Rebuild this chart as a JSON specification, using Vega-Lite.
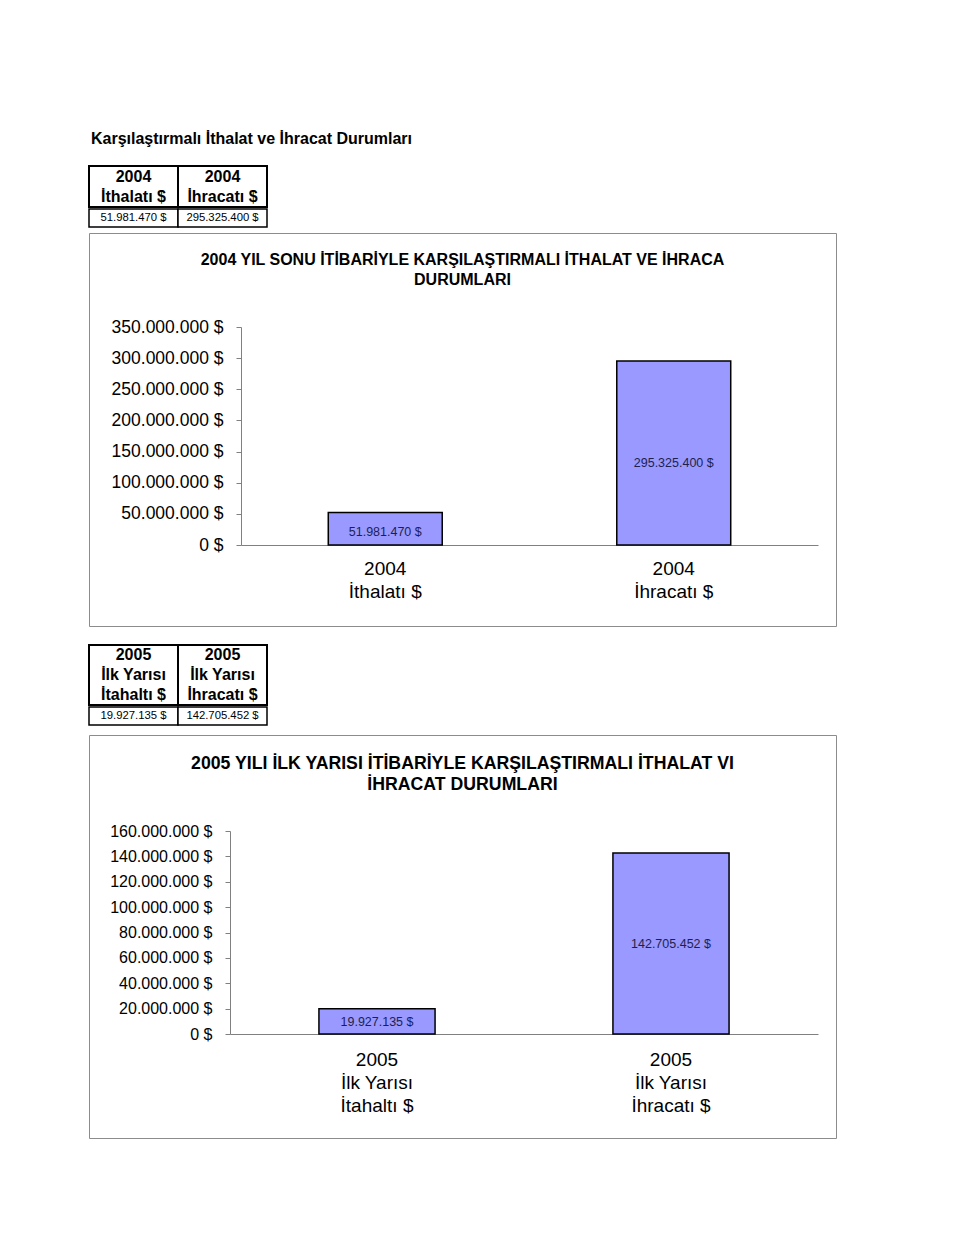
{
  "$schema": "https://vega.github.io/schema/vega-lite/v6.json",
  "background": "white",
  "padding": {"left": 88, "top": 131, "right": 10, "bottom": 10},
  "title": {"text": "Karşılaştırmalı İthalat ve İhracat Durumları", "anchor": "start", "fontSize": 16, "fontWeight": "bold", "color": "black", "offset": 18, "dx": 3},
  "config": {
    "font": "Liberation Sans",
    "locale": {"number": {"decimal": ",", "thousands": ".", "grouping": [3], "currency": ["", " $"]}},
    "axis": {"labelFont": "Liberation Sans", "labelColor": "black", "domainColor": "#808080", "tickColor": "#808080", "grid": false}
  },
  "datasets": {
    "y2004": [
      {"kategori": "2004|İthalatı $", "deger": 51981470},
      {"kategori": "2004|İhracatı $", "deger": 295325400}
    ],
    "y2005": [
      {"kategori": "2005|İlk Yarısı|İtahaltı $", "deger": 19927135},
      {"kategori": "2005|İlk Yarısı|İhracatı $", "deger": 142705452}
    ]
  },
  "spacing": 17,
  "vconcat": [
    {
      "spacing": 4,
      "vconcat": [
        {
          "spacing": 0,
          "vconcat": [
            {
              "width": 178, "height": 41,
              "data": {"name": "y2004"},
              "view": {"stroke": null},
              "encoding": {"x": {"field": "kategori", "type": "nominal", "sort": null, "axis": null, "scale": {"paddingInner": 0, "paddingOuter": 0}}},
              "layer": [
                {"mark": {"type": "rect", "fill": "white", "stroke": "black", "strokeWidth": 2}},
                {"mark": {"type": "text", "lineBreak": "|", "fontSize": 16, "fontWeight": "bold", "lineHeight": 20, "baseline": "middle", "dy": -10, "color": "black"},
                 "encoding": {"text": {"field": "kategori", "type": "nominal"}}}
              ]
            },
            {
              "width": 178, "height": 18,
              "data": {"name": "y2004"},
              "view": {"stroke": null},
              "encoding": {"x": {"field": "kategori", "type": "nominal", "sort": null, "axis": null, "scale": {"paddingInner": 0, "paddingOuter": 0}}},
              "layer": [
                {"mark": {"type": "rect", "fill": "white", "stroke": "black", "strokeWidth": 1.5}},
                {"mark": {"type": "text", "fontSize": 11.3, "baseline": "middle", "color": "black"},
                 "encoding": {"text": {"field": "deger", "type": "quantitative", "format": "$,.0f"}}}
              ]
            }
          ]
        },
        {
          "width": 747, "height": 393,
          "data": {"name": "y2004"},
          "view": {"stroke": "#8c8c8c", "strokeWidth": 1},
          "title": {"text": ["2004 YIL SONU İTİBARİYLE KARŞILAŞTIRMALI İTHALAT VE İHRACA", "DURUMLARI"], "fontSize": 16, "fontWeight": "bold", "anchor": "middle", "frame": "group", "offset": -55, "lineHeight": 20, "color": "black"},
          "encoding": {
            "x": {"field": "kategori", "type": "nominal", "sort": null, "title": null,
                  "scale": {"range": [152, 729], "paddingInner": 0.605, "paddingOuter": 0.3025},
                  "axis": {"offset": -81, "labelExpr": "split(datum.label, '|')", "labelFontSize": 19, "labelLineHeight": 23, "labelPadding": 14, "ticks": false, "labelAngle": 0, "labelBaseline": "top", "labelOverlap": false, "labelBound": false}}
          },
          "layer": [
            {"mark": {"type": "bar", "fill": "#9999ff", "stroke": "black", "strokeWidth": 1.5},
             "encoding": {"y": {"field": "deger", "type": "quantitative", "title": null,
                                "scale": {"domain": [0, 350000000], "range": [312, 94], "nice": false},
                                "axis": {"offset": -152, "values": [0, 50000000, 100000000, 150000000, 200000000, 250000000, 300000000, 350000000], "format": "$,.0f", "labelFontSize": 17.5, "tickSize": 5, "labelPadding": 13}}}},
            {"mark": {"type": "text", "fontSize": 12.5, "color": "#1f1f4f", "baseline": "middle", "dy": 2},
             "encoding": {"y": {"field": "deger", "type": "quantitative", "scale": {"domain": [0, 770000000], "range": [312, 94], "nice": false}, "axis": null},
                          "text": {"field": "deger", "type": "quantitative", "format": "$,.0f"}}}
          ],
          "resolve": {"scale": {"y": "independent"}}
        }
      ]
    },
    {
      "spacing": 8,
      "vconcat": [
        {
          "spacing": 0,
          "vconcat": [
            {
              "width": 178, "height": 60,
              "data": {"name": "y2005"},
              "view": {"stroke": null},
              "encoding": {"x": {"field": "kategori", "type": "nominal", "sort": null, "axis": null, "scale": {"paddingInner": 0, "paddingOuter": 0}}},
              "layer": [
                {"mark": {"type": "rect", "fill": "white", "stroke": "black", "strokeWidth": 2}},
                {"mark": {"type": "text", "lineBreak": "|", "fontSize": 16, "fontWeight": "bold", "lineHeight": 20, "baseline": "middle", "dy": -20, "color": "black"},
                 "encoding": {"text": {"field": "kategori", "type": "nominal"}}}
              ]
            },
            {
              "width": 178, "height": 18,
              "data": {"name": "y2005"},
              "view": {"stroke": null},
              "encoding": {"x": {"field": "kategori", "type": "nominal", "sort": null, "axis": null, "scale": {"paddingInner": 0, "paddingOuter": 0}}},
              "layer": [
                {"mark": {"type": "rect", "fill": "white", "stroke": "black", "strokeWidth": 1.5}},
                {"mark": {"type": "text", "fontSize": 11.3, "baseline": "middle", "color": "black"},
                 "encoding": {"text": {"field": "deger", "type": "quantitative", "format": "$,.0f"}}}
              ]
            }
          ]
        },
        {
          "width": 747, "height": 403,
          "data": {"name": "y2005"},
          "view": {"stroke": "#8c8c8c", "strokeWidth": 1},
          "title": {"text": ["2005 YILI İLK YARISI İTİBARİYLE KARŞILAŞTIRMALI İTHALAT VI", "İHRACAT DURUMLARI"], "fontSize": 17.7, "fontWeight": "bold", "anchor": "middle", "frame": "group", "offset": -59, "lineHeight": 21, "color": "black"},
          "encoding": {
            "x": {"field": "kategori", "type": "nominal", "sort": null, "title": null,
                  "scale": {"range": [141, 729], "paddingInner": 0.605, "paddingOuter": 0.3025},
                  "axis": {"offset": -104, "labelExpr": "split(datum.label, '|')", "labelFontSize": 19, "labelLineHeight": 23, "labelPadding": 16, "ticks": false, "labelAngle": 0, "labelBaseline": "top", "labelOverlap": false, "labelBound": false}}
          },
          "layer": [
            {"mark": {"type": "bar", "fill": "#9999ff", "stroke": "black", "strokeWidth": 1.5},
             "encoding": {"y": {"field": "deger", "type": "quantitative", "title": null,
                                "scale": {"domain": [0, 160000000], "range": [299, 96], "nice": false},
                                "axis": {"offset": -141, "values": [0, 20000000, 40000000, 60000000, 80000000, 100000000, 120000000, 140000000, 160000000], "format": "$,.0f", "labelFontSize": 16, "tickSize": 5, "labelPadding": 13}}}},
            {"mark": {"type": "text", "fontSize": 12.5, "color": "#1f1f4f", "baseline": "middle", "dy": 1},
             "encoding": {"y": {"field": "deger", "type": "quantitative", "scale": {"domain": [0, 320000000], "range": [299, 96], "nice": false}, "axis": null},
                          "text": {"field": "deger", "type": "quantitative", "format": "$,.0f"}}}
          ],
          "resolve": {"scale": {"y": "independent"}}
        }
      ]
    }
  ]
}
